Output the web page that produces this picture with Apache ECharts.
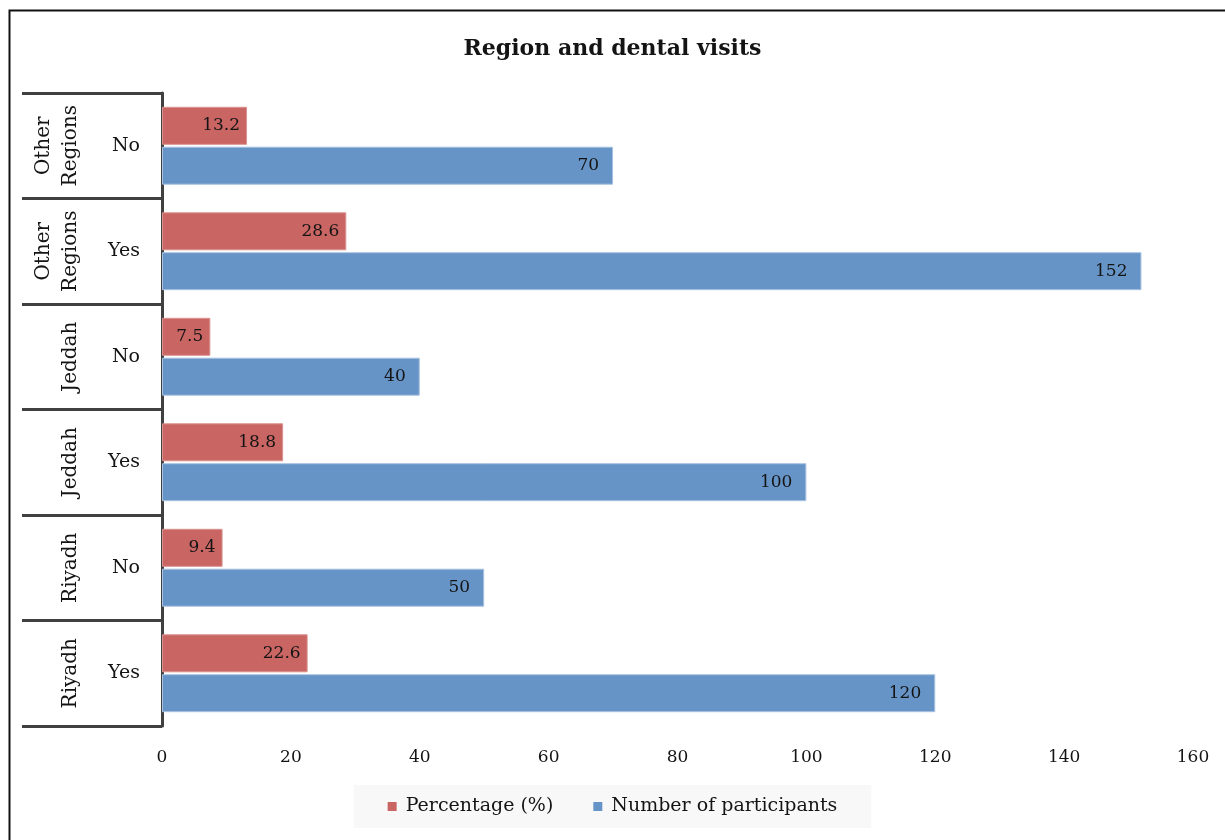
<!DOCTYPE html>
<html>
<head>
<meta charset="utf-8">
<title>Region and dental visits</title>
<script src="https://cdn.jsdelivr.net/npm/echarts@6/dist/echarts.min.js"></script>
<style>
  html, body { margin: 0; padding: 0; background: #ffffff; }
  #chart { width: 1225px; height: 840px; }
</style>
</head>
<body>
<div id="chart"></div>
<script>
// Categories, listed bottom to top along the vertical axis
const regions = ['Riyadh', 'Riyadh', 'Jeddah', 'Jeddah', 'Other\nRegions', 'Other\nRegions'];
const visits = ['Yes', 'No', 'Yes', 'No', 'Yes', 'No'];

// Series values
const percentage = [22.6, 9.4, 18.8, 7.5, 28.6, 13.2];
const participants = [120, 50, 100, 40, 152, 70];

// Value axis ticks
const xMin = 0;
const xMax = 160;
const xStep = 20;

const FONT = 'DejaVu Serif';
const TEXT = '#141414';
const categoryKeys = regions.map((r, i) => r + '|' + visits[i]);

const chart = echarts.init(document.getElementById('chart'));

chart.setOption({
  animation: false,
  backgroundColor: '#ffffff',
  title: {
    text: 'Region and dental visits',
    left: 'center',
    top: 33,
    textStyle: { fontFamily: FONT, fontSize: 22, fontWeight: 'bold', color: TEXT }
  },
  legend: {
    bottom: 12,
    left: 'center',
    itemWidth: 9,
    itemHeight: 9,
    itemGap: 40,
    padding: [12, 34, 12, 34],
    backgroundColor: '#f8f8f8',
    icon: 'rect',
    itemStyle: { borderWidth: 0 },
    textStyle: { fontFamily: FONT, fontSize: 19, color: TEXT, padding: [0, 0, 0, 4] },
    data: ['Percentage (%)', 'Number of participants']
  },
  grid: { left: 162, right: 32, top: 93, bottom: 114, containLabel: false },
  xAxis: {
    type: 'value',
    min: xMin,
    max: xMax,
    interval: xStep,
    axisLine: { show: false },
    axisTick: { show: false },
    splitLine: { show: false },
    axisLabel: { margin: 23, fontFamily: FONT, fontSize: 17, color: TEXT }
  },
  yAxis: [
    {
      type: 'category',
      data: categoryKeys,
      position: 'left',
      axisLine: { show: true, lineStyle: { color: '#404040', width: 3 } },
      axisTick: { show: true, interval: 0, length: 140, lineStyle: { color: '#404040', width: 3 } },
      axisLabel: {
        interval: 0,
        margin: 22,
        fontFamily: FONT,
        fontSize: 19,
        color: TEXT,
        formatter: v => v.split('|')[1]
      }
    },
    {
      type: 'category',
      data: categoryKeys,
      position: 'left',
      offset: 0,
      axisLine: { show: false },
      axisTick: { show: false },
      axisLabel: {
        interval: 0,
        hideOverlap: false,
        margin: 78,
        rotate: 90,
        fontFamily: FONT,
        fontSize: 20,
        lineHeight: 27,
        color: TEXT,
        formatter: v => v.split('|')[0]
      }
    }
  ],
  series: [
    {
      name: 'Percentage (%)',
      type: 'bar',
      yAxisIndex: 0,
      data: percentage,
      barWidth: 38,
      barGap: '5%',
      itemStyle: { color: '#c96563', borderColor: '#d99390', borderWidth: 1 },
      label: {
        show: true,
        position: 'insideRight',
        distance: 7,
        fontFamily: FONT,
        fontSize: 17,
        color: TEXT
      }
    },
    {
      name: 'Number of participants',
      type: 'bar',
      yAxisIndex: 0,
      data: participants,
      barWidth: 38,
      barGap: '5%',
      itemStyle: { color: '#6794c7', borderColor: '#a9c2e0', borderWidth: 1 },
      label: {
        show: true,
        position: 'insideRight',
        distance: 14,
        fontFamily: FONT,
        fontSize: 17,
        color: TEXT
      }
    }
  ],
  graphic: [
    {
      type: 'rect',
      silent: true,
      shape: { x: 9.5, y: 10.5, width: 1300, height: 900 },
      style: { fill: 'none', stroke: '#111111', lineWidth: 2 }
    }
  ]
});
</script>
</body>
</html>
